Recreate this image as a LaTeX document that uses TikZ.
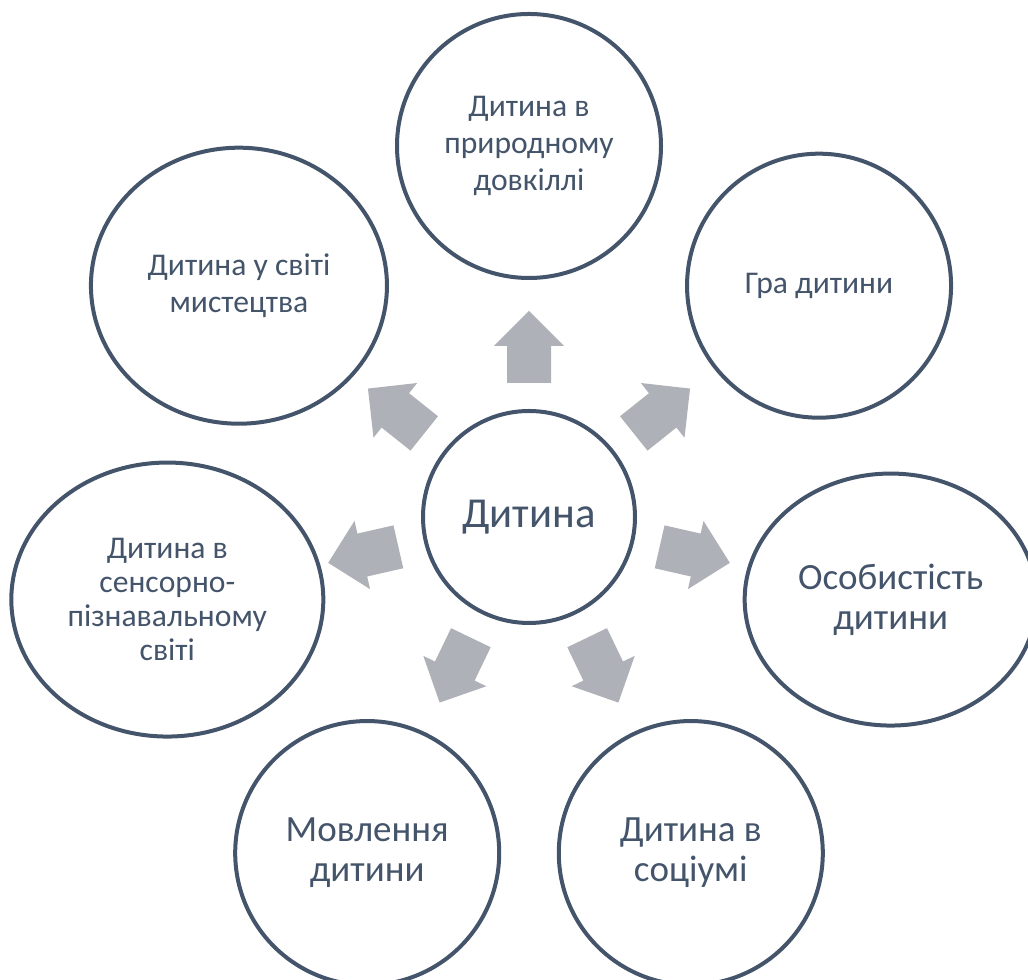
\documentclass[tikz,border=0pt]{standalone}
\usepackage{fontspec}
\setmainfont{Carlito}

\definecolor{slate}{HTML}{44546A}
\definecolor{arrowgray}{RGB}{174,177,184}

\tikzstyle{bubble} = [draw=slate, line width=3pt, fill=white, text=slate, align=center, inner sep=0pt]
\tikzstyle{small} = [font=\fontsize{23.7}{28}\selectfont]
\tikzstyle{big} = [font=\fontsize{27.75}{30}\selectfont]
\tikzstyle{blockarrow} = [fill=arrowgray]

\usetikzlibrary{shapes.geometric}

\begin{document}
\begin{tikzpicture}[x=0.75pt, y=0.75pt]
\useasboundingbox (0,0) rectangle (1028,980);
\clip (0,0) rectangle (1028,980);

%CENTRE
\node[bubble, circle, minimum size=159pt, font=\fontsize{32}{36}\selectfont] (kid) at (529,463) {Дитина};

%TOP
\node[bubble, small, circle, minimum size=198pt] (nature) at ([shift={(90:371)}]kid) {Дитина в\\природному\\довкіллі};
%TOP RIGHT
\node[bubble, small, circle, minimum size=198pt] (play) at ([shift={(38.57:371)}]kid) {Гра дитини};
%RIGHT
\node[bubble, big, ellipse, minimum width=219pt, minimum height=189pt] (person) at ([shift={(-12.86:371)}]kid) {Особистість\\дитини};
%BOTTOM RIGHT
\node[bubble, big, circle, minimum size=198pt] (social) at ([shift={(-64.29:373)}]kid) {Дитина в\\соціумі};
%BOTTOM LEFT
\node[bubble, big, circle, minimum size=198pt] (speech) at ([shift={(-115.71:373)}]kid) {Мовлення\\дитини};
%LEFT
\node[bubble, ellipse, minimum width=234pt, minimum height=205.5pt, font=\fontsize{23.7}{25.5}\selectfont] (sensory) at ([shift={(-167.14:371)}]kid) {Дитина в\\сенсорно-\\пізнавальному\\світі};
%TOP LEFT
\node[bubble, small, ellipse, minimum width=222pt, minimum height=207pt] (art) at ([shift={(141.43:371)}]kid) {Дитина у світі\\мистецтва};

%ARROWS
\foreach \i [evaluate=\i as \a using 90-\i*360/7] in {0,...,6} {%
 \fill[blockarrow, shift={(kid.center)}, rotate=\a] (134,-22) -- (171,-22) -- (171,-35) -- (206,0) -- (171,35) -- (171,22) -- (134,22) -- cycle;
}
\end{tikzpicture}
\end{document}
